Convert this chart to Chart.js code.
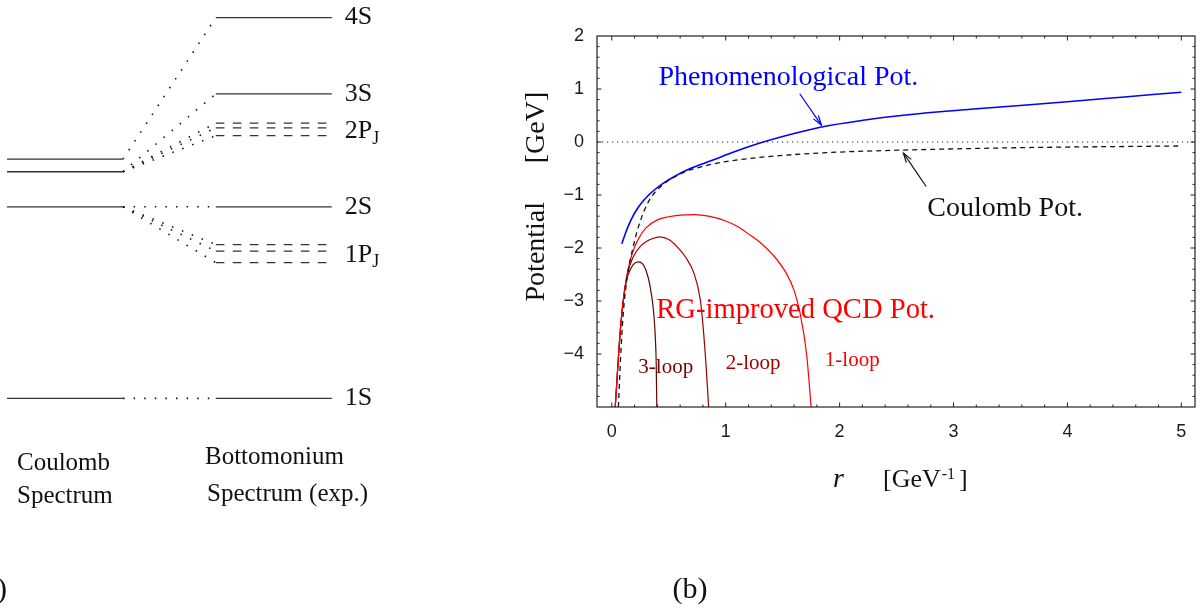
<!DOCTYPE html>
<html><head><meta charset="utf-8">
<script src="https://cdn.jsdelivr.net/npm/chart.js@4"></script>
<style>
html,body{margin:0;padding:0;background:#fff;width:1204px;height:608px;overflow:hidden}
#a{position:absolute;left:0;top:0;width:420px;height:608px}
#b{position:absolute;left:420px;top:0;width:784px;height:608px}
</style></head><body>
<div id="a"><canvas id="ca"></canvas></div>
<div id="b"><canvas id="cb"></canvas></div>
<script>
// ---------- Panel (a): energy levels [GeV] ----------
const coulombLevels = [9.460, 10.023, 10.126, 10.163];   // n = 1..4
const expSLevels    = [9.460, 10.023, 10.355, 10.579];   // 1S..4S
const expSLabels    = ['1S', '2S', '3S', '4S'];
const exp1PLevels   = [9.859, 9.893, 9.912];
const exp2PLevels   = [10.232, 10.255, 10.269];
const pLabels       = ['1P', '2P'];
const pSub          = 'J';
const pParent       = [1, 2];   // Coulomb level index feeding 1P, 2P

// ---------- Panel (b): potentials ----------
const coulR = [0.058,0.07,0.085,0.1,0.12,0.15,0.18,0.22,0.28,0.34,0.4,0.5,0.66,0.8,1.0,1.3,1.65,2.0,2.5,3.0,3.5,4.0,4.5,5.0];
const coulV = [-5.0,-4.4,-3.75,-3.25,-2.8,-2.35,-2.05,-1.7,-1.32,-1.06,-0.9,-0.72,-0.55,-0.46,-0.37,-0.29,-0.23,-0.19,-0.155,-0.13,-0.11,-0.095,-0.085,-0.075];

const phenR = [0.088,0.12,0.15,0.19,0.23,0.277,0.32,0.365,0.45,0.55,0.66,0.8,0.9,1.07,1.2,1.33,1.6,1.83,2.24,2.5,2.88,3.41,4.0,4.5,5.0];
const phenV = [-1.92,-1.72,-1.56,-1.38,-1.24,-1.11,-1.01,-0.92,-0.78,-0.65,-0.53,-0.41,-0.33,-0.19,-0.09,0.0,0.16,0.28,0.42,0.49,0.57,0.66,0.76,0.85,0.94];

const loop1R = [0.03,0.045,0.06,0.075,0.1,0.13,0.16,0.2,0.25,0.3,0.4,0.5,0.6,0.73,0.85,1.0,1.1,1.21,1.3,1.415,1.53,1.6,1.65,1.71,1.75];
const loop1V = [-5.0,-4.5,-4.0,-3.55,-3.0,-2.55,-2.25,-1.98,-1.77,-1.62,-1.47,-1.41,-1.38,-1.37,-1.4,-1.49,-1.59,-1.75,-1.89,-2.13,-2.47,-2.8,-3.2,-4.0,-5.0];

const loop2R = [0.03,0.045,0.06,0.075,0.1,0.13,0.16,0.19,0.25,0.3,0.36,0.42,0.5,0.57,0.65,0.72,0.775,0.8,0.827,0.85];
const loop2V = [-5.0,-4.5,-4.0,-3.55,-3.0,-2.56,-2.32,-2.16,-1.97,-1.88,-1.82,-1.79,-1.84,-1.97,-2.18,-2.47,-2.95,-3.45,-4.2,-5.0];

const loop3R = [0.03,0.045,0.06,0.075,0.1,0.13,0.16,0.19,0.233,0.27,0.3,0.336,0.365,0.38,0.39,0.395];
const loop3V = [-5.0,-4.5,-4.0,-3.55,-3.0,-2.6,-2.42,-2.31,-2.26,-2.3,-2.42,-2.72,-3.16,-3.6,-4.2,-5.0];

const xTickMin = -0.13, xTickMax = 5.12, yMin = -5, yMax = 2;

// arrows [from r, from V, to r, to V]
const phenArrow = [1.65, 0.91, 1.84, 0.32];
const coulArrow = [2.76, -0.84, 2.56, -0.21];

const zip = (xs, ys) => xs.map((v, i) => ({x: v, y: ys[i]}));
const SERIF = '"Liberation Serif", "Times New Roman", serif';
const SANS = '"Liberation Sans", Arial, sans-serif';

// ================= Chart A =================
const COUL_COL = [0, 1], EXP_COL = [1.8, 2.8];
const dsA = [];
const lvl = (x0, x1, E, dash) => ({data: [{x: x0, y: E}, {x: x1, y: E}], borderColor: '#333', borderWidth: 1.3,
  borderDash: dash || [], pointRadius: 0, fill: false});
const conn = (E0, E1) => ({data: [{x: COUL_COL[1], y: E0}, {x: EXP_COL[0], y: E1}], borderColor: '#111', borderWidth: 1.6,
  borderDash: [1.5, 9.1], pointRadius: 0, fill: false});
coulombLevels.forEach(E => dsA.push(lvl(COUL_COL[0], COUL_COL[1], E)));
expSLevels.forEach(E => dsA.push(lvl(EXP_COL[0], EXP_COL[1], E)));
[exp1PLevels, exp2PLevels].forEach(g => g.forEach(E => dsA.push(lvl(EXP_COL[0], EXP_COL[1], E, [8.6, 8.4]))));
expSLevels.forEach((E, i) => dsA.push(conn(coulombLevels[i], E)));
[exp1PLevels, exp2PLevels].forEach((g, k) => g.forEach(E => dsA.push(conn(coulombLevels[pParent[k]], E))));

const labelsA = {
  id: 'labelsA',
  afterDraw(chart) {
    const {ctx, scales: {x, y}} = chart;
    ctx.save();
    ctx.fillStyle = '#111';
    ctx.textBaseline = 'middle';
    ctx.textAlign = 'left';
    const lx = x.getPixelForValue(EXP_COL[1]) + 13;
    ctx.font = '26px ' + SERIF;
    expSLevels.forEach((E, i) => ctx.fillText(expSLabels[i], lx, y.getPixelForValue(E)));
    [exp1PLevels, exp2PLevels].forEach((g, k) => {
      const m = g.reduce((s, v) => s + v, 0) / g.length;
      const py = y.getPixelForValue(m) + 2;
      ctx.font = '26px ' + SERIF;
      ctx.fillText(pLabels[k], lx, py);
      const w = ctx.measureText(pLabels[k]).width;
      ctx.font = '18px ' + SERIF;
      ctx.fillText(pSub, lx + w, py + 8);
    });
    ctx.font = '25px ' + SERIF;
    ctx.fillText('Coulomb', 17, 463);
    ctx.fillText('Spectrum', 17, 496);
    ctx.fillText('Bottomonium', 205, 457);
    ctx.fillText('Spectrum (exp.)', 207, 494);
    ctx.font = '30px ' + SERIF;
    ctx.textAlign = 'right';
    ctx.fillText('(a)', 7, 590);
    ctx.restore();
  }
};

new Chart(document.getElementById('ca'), {
  type: 'line',
  data: {datasets: dsA},
  options: {
    responsive: true, maintainAspectRatio: false, animation: false,
    layout: {padding: 0},
    plugins: {legend: {display: false}, tooltip: {enabled: false}},
    scales: {
      x: {type: 'linear', display: false, min: -0.0603, max: 3.5603},
      y: {type: 'linear', display: false, min: 8.8441, max: 10.6307}
    }
  },
  plugins: [labelsA]
});

// ================= Chart B =================
const fmt = v => String(v).replace('-', '\u2212');

function arrow(ctx, x0, y0, x1, y1, color) {
  ctx.strokeStyle = color; ctx.lineWidth = 1.2;
  ctx.beginPath(); ctx.moveTo(x0, y0); ctx.lineTo(x1, y1); ctx.stroke();
  const a = Math.atan2(y1 - y0, x1 - x0), L = 10, s = 0.3;
  ctx.beginPath();
  ctx.moveTo(x1 - L * Math.cos(a - s), y1 - L * Math.sin(a - s));
  ctx.lineTo(x1, y1);
  ctx.lineTo(x1 - L * Math.cos(a + s), y1 - L * Math.sin(a + s));
  ctx.stroke();
}

const decorB = {
  id: 'decorB',
  afterDatasetsDraw(chart) {
    const {ctx, chartArea: a, scales: {x, y}} = chart;
    ctx.save();
    // frame
    ctx.strokeStyle = '#222'; ctx.lineWidth = 1.2;
    ctx.strokeRect(a.left, a.top, a.right - a.left, a.bottom - a.top);
    // ticks inside, on all four sides
    ctx.lineWidth = 1;
    ctx.beginPath();
    for (let i = 0; i <= 25; i++) {
      const v = i * 0.2, px = x.getPixelForValue(v), L = i % 5 === 0 ? 4.5 : 2.5;
      ctx.moveTo(px, a.bottom); ctx.lineTo(px, a.bottom - L);
      ctx.moveTo(px, a.top); ctx.lineTo(px, a.top + L);
    }
    for (let i = 1; i < 35; i++) {
      const v = yMin + i * 0.2, py = y.getPixelForValue(v), L = i % 5 === 0 ? 4.5 : 2.5;
      ctx.moveTo(a.left, py); ctx.lineTo(a.left + L, py);
      ctx.moveTo(a.right, py); ctx.lineTo(a.right - L, py);
    }
    ctx.stroke();
    // arrows
    const P = (r, v) => [x.getPixelForValue(r), y.getPixelForValue(v)];
    let p0 = P(phenArrow[0], phenArrow[1]), p1 = P(phenArrow[2], phenArrow[3]);
    arrow(ctx, p0[0], p0[1], p1[0], p1[1], '#0000ff');
    p0 = P(coulArrow[0], coulArrow[1]); p1 = P(coulArrow[2], coulArrow[3]);
    arrow(ctx, p0[0], p0[1], p1[0], p1[1], '#111');
    // annotations
    ctx.textBaseline = 'alphabetic'; ctx.textAlign = 'left';
    const T = (t, r, v, col, f) => { ctx.font = f; ctx.fillStyle = col; const q = P(r, v); ctx.fillText(t, q[0], q[1]); };
    T('Phenomenological Pot.', 0.41, 1.08, '#0000ff', '28px ' + SERIF);
    T('Coulomb Pot.', 2.77, -1.40, '#111', '28px ' + SERIF);
    T('RG-improved QCD Pot.', 0.39, -3.32, '#ff0000', '28.6px ' + SERIF);
    T('3-loop', 0.233, -4.35, '#7a0000', '21px ' + SERIF);
    T('2-loop', 1.0, -4.28, '#a50000', '21px ' + SERIF);
    T('1-loop', 1.87, -4.22, '#ff0000', '21px ' + SERIF);
    // axis titles
    ctx.fillStyle = '#111';
    ctx.font = 'italic 28px ' + SERIF;
    ctx.fillText('r', 413, 487);
    ctx.font = '26px ' + SERIF;
    let cx = 463;
    ctx.fillText('[GeV', cx, 487); cx += ctx.measureText('[GeV').width + 1;
    ctx.font = '16px ' + SERIF;
    ctx.fillText('-1', cx, 479); cx += ctx.measureText('-1').width + 4;
    ctx.font = '26px ' + SERIF;
    ctx.fillText(']', cx, 487);
    ctx.save();
    ctx.font = '28px ' + SERIF;
    ctx.textAlign = 'center';
    ctx.translate(124, 0);
    ctx.rotate(-Math.PI / 2);
    ctx.fillText('Potential', -251.7, 0);
    ctx.fillText('[GeV]', -127.5, 0);
    ctx.restore();
    ctx.font = '30px ' + SERIF;
    ctx.textAlign = 'center'; ctx.textBaseline = 'middle';
    ctx.fillText('(b)', 270, 590);
    ctx.restore();
  }
};

const lineDs = (xs, ys, color, w, dash) => ({
  data: zip(xs, ys), borderColor: color, borderWidth: w, borderDash: dash || [],
  pointRadius: 0, fill: false, cubicInterpolationMode: 'monotone'
});

new Chart(document.getElementById('cb'), {
  type: 'line',
  data: {datasets: [
    {data: [{x: xTickMin, y: 0}, {x: xTickMax, y: 0}], borderColor: '#222', borderWidth: 1.2, borderDash: [1.2, 3.8], pointRadius: 0, fill: false},
    lineDs(coulR, coulV, '#111', 1.3, [5, 4]),
    lineDs(phenR, phenV, '#0000ff', 1.6),
    lineDs(loop1R, loop1V, '#ff0000', 1.2),
    lineDs(loop2R, loop2V, '#a00000', 1.2),
    lineDs(loop3R, loop3V, '#6a0000', 1.2)
  ]},
  options: {
    responsive: true, maintainAspectRatio: false, animation: false,
    layout: {padding: {left: 0, right: 9, top: 36, bottom: 0}},
    plugins: {legend: {display: false}, tooltip: {enabled: false}},
    scales: {
      x: {
        type: 'linear', min: xTickMin, max: xTickMax,
        grid: {display: false, drawTicks: false}, border: {display: false},
        ticks: {stepSize: 1, includeBounds: false, padding: 14, color: '#1a1a1a', font: {family: SANS, size: 18},
          callback: v => Number.isInteger(v) ? fmt(v) : ''},
        afterFit: s => { s.height = 201; }
      },
      y: {
        type: 'linear', min: yMin, max: yMax,
        grid: {display: false, drawTicks: false}, border: {display: false},
        ticks: {stepSize: 1, padding: 13, color: '#1a1a1a', font: {family: SANS, size: 18},
          callback: v => (v === yMin ? '' : fmt(v))},
        afterFit: s => { s.width = 177; }
      }
    }
  },
  plugins: [decorB]
});
</script>
</body></html>
